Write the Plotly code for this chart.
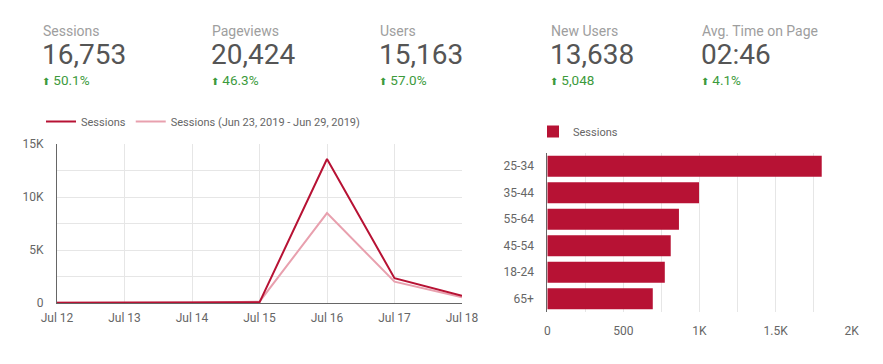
import plotly.graph_objects as go

# KPI scorecards
kpi_labels = ["Sessions", "Pageviews", "Users", "New Users", "Avg. Time on Page"]
kpi_values = ["16,753", "20,424", "15,163", "13,638", "02:46"]
kpi_deltas = ["50.1%", "46.3%", "57.0%", "5,048", "4.1%"]
kpi_x_px = [41, 210, 378, 549, 700]

# Time series
dates = ["Jul 12", "Jul 13", "Jul 14", "Jul 15", "Jul 16", "Jul 17", "Jul 18"]
sessions = [20, 20, 20, 60, 13580, 2340, 690]
sessions_prev = [30, 30, 30, 120, 8480, 2010, 540]
line_ytickvals = [0, 2500, 5000, 7500, 10000, 12500, 15000]
line_yticktext = ["0", "", "5K", "", "10K", "", "15K"]

# Age bar chart
ages = ["25-34", "35-44", "55-64", "45-54", "18-24", "65+"]
age_sessions = [1803, 997, 865, 811, 772, 693]
bar_xtickvals = [0, 250, 500, 750, 1000, 1250, 1500, 1750, 2000]
bar_xticktext = ["0", "", "500", "", "1K", "", "1.5K", "", "2K"]

W, H = 883, 364
OFF = 8  # page body margin
DARK = "#B71234"
LIGHT = "#E8A0AE"
FONT = "Roboto"

def px_x(p):
    return (p - OFF) / W

def px_y(p):
    return 1 - (p - OFF) / H

fig = go.Figure()

fig.add_trace(go.Scatter(x=dates, y=sessions_prev, mode="lines",
                         name="Sessions (Jun 23, 2019 - Jun 29, 2019)",
                         line=dict(color=LIGHT, width=2), xaxis="x", yaxis="y",
                         legend="legend", hoverinfo="skip"))
fig.add_trace(go.Scatter(x=dates, y=sessions, mode="lines", name="Sessions",
                         line=dict(color=DARK, width=2), xaxis="x", yaxis="y",
                         legend="legend", hoverinfo="skip"))

fig.add_trace(go.Bar(y=ages, x=age_sessions, orientation="h", name="Sessions",
                     marker=dict(color=DARK, line=dict(width=0)), xaxis="x2", yaxis="y2",
                     legend="legend2", hoverinfo="skip"))

grid = "#E6E6E6"
axis_line = "#666666"
tick_font = dict(family=FONT, size=12, color="#666666")

fig.update_layout(
    width=W, height=H,
    margin=dict(l=0, r=0, t=0, b=0, pad=0, autoexpand=False),
    paper_bgcolor="white", plot_bgcolor="white",
    font=dict(family=FONT, color="#666666"),
    showlegend=True,
    bargap=0.2,
    xaxis=dict(domain=[px_x(57), px_x(462)], anchor="y", type="category",
               range=[0, 6], showgrid=True, gridcolor=grid, gridwidth=1,
               showline=True, linecolor=axis_line, linewidth=1,
               zeroline=False, ticks="", tickfont=tick_font, ticklabelstandoff=4,
               automargin=False, fixedrange=True),
    yaxis=dict(domain=[px_y(303), px_y(144)], anchor="x", range=[0, 15000],
               tickvals=line_ytickvals, ticktext=line_yticktext,
               showgrid=True, gridcolor=grid, gridwidth=1,
               showline=True, linecolor=axis_line, linewidth=1,
               zeroline=False, ticks="", tickfont=tick_font, ticklabelstandoff=10,
               automargin=False, fixedrange=True),
    xaxis2=dict(domain=[px_x(547.3), px_x(851.7)], anchor="y2", range=[0, 2000],
                tickvals=bar_xtickvals, ticktext=bar_xticktext,
                showgrid=True, gridcolor=grid, gridwidth=1,
                showline=False, zeroline=False, ticks="",
                tickfont=tick_font, ticklabelstandoff=10, automargin=False,
                fixedrange=True),
    yaxis2=dict(domain=[px_y(312), px_y(153)], anchor="x2", type="category",
                categoryorder="array", categoryarray=ages, autorange="reversed",
                showline=True, linecolor=axis_line, linewidth=1,
                showgrid=False, zeroline=False, ticks="",
                tickfont=tick_font, ticklabelstandoff=10, automargin=False,
                fixedrange=True),
    legend=dict(orientation="h", x=px_x(41), y=px_y(107), xanchor="left", yanchor="top",
                font=dict(family=FONT, size=11, color="#666666"),
                bgcolor="rgba(0,0,0,0)", traceorder="reversed"),
    legend2=dict(orientation="h", x=px_x(533), y=px_y(117), xanchor="left", yanchor="top",
                 font=dict(family=FONT, size=11, color="#666666"),
                 bgcolor="rgba(0,0,0,0)"),
)

annotations = []
for lab, val, dlt, xp in zip(kpi_labels, kpi_values, kpi_deltas, kpi_x_px):
    annotations.append(dict(text=lab, x=px_x(xp), y=px_y(31), xref="paper", yref="paper",
                            xanchor="left", yanchor="middle", showarrow=False,
                            font=dict(family=FONT, size=14, color="#9E9E9E")))
    annotations.append(dict(text=val, x=px_x(xp - 1), y=px_y(55), xref="paper", yref="paper",
                            xanchor="left", yanchor="middle", showarrow=False,
                            font=dict(family=FONT, size=28, color="#555555")))
    annotations.append(dict(text="<span style='font-size:10px'>⬆</span> " + dlt,
                            x=px_x(xp - 1), y=px_y(80), xref="paper", yref="paper",
                            xanchor="left", yanchor="middle", showarrow=False,
                            font=dict(family=FONT, size=13.5, color="#3C9A3C")))
fig.update_layout(annotations=annotations)

fig.write_html("out.html")
